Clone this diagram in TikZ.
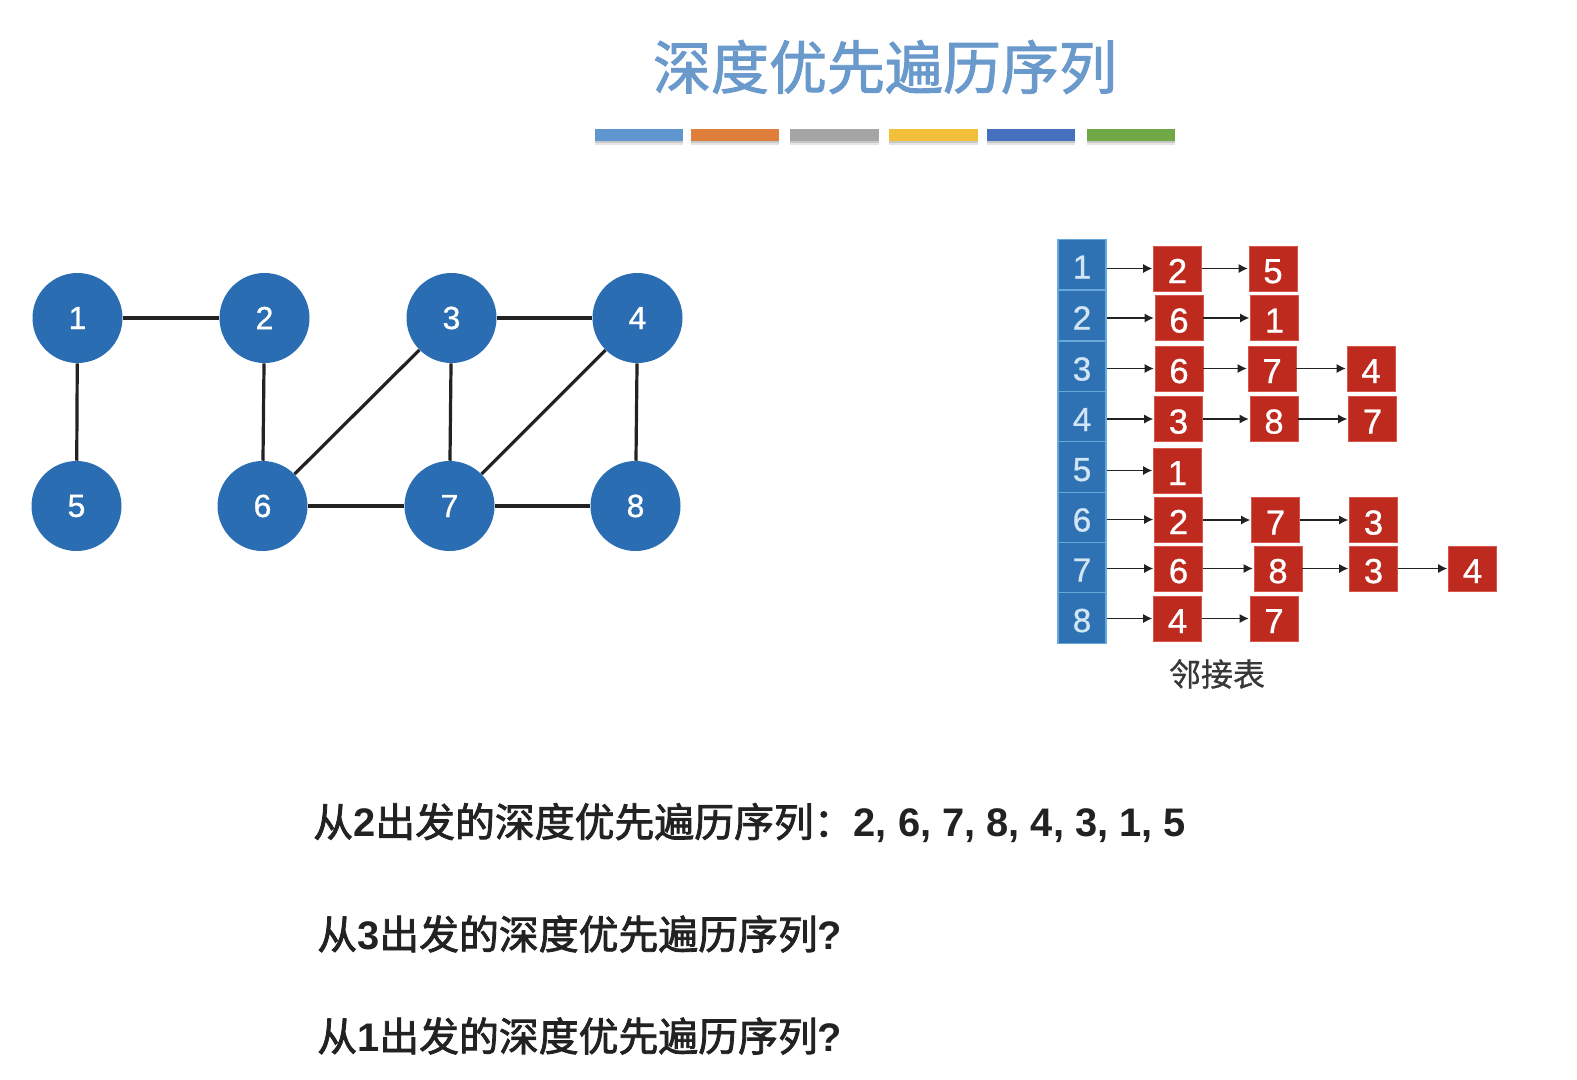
\documentclass[tikz,border=0pt]{standalone}
\usepackage{fontspec}
\setmainfont{Liberation Sans}
\newfontfamily\cjkt[FakeBold=1.6]{Noto Sans CJK SC}
\newfontfamily\cjkm[FakeBold=2.0]{Noto Sans CJK SC}
\newfontfamily\cjks[FakeBold=0.7]{Noto Sans CJK SC}
\newfontfamily\dig[FakeBold=0.8]{Liberation Sans}
\usetikzlibrary{arrows.meta}
\definecolor{circ}{HTML}{2A6DB2}
\definecolor{cellb}{HTML}{2E72B4}
\definecolor{celll}{HTML}{68A8DA}
\definecolor{redb}{HTML}{BE2A1E}
\definecolor{redl}{HTML}{D8574C}
\definecolor{titlec}{HTML}{6A99CC}
\definecolor{ink}{HTML}{222222}
\definecolor{barA}{HTML}{5F96D0}
\definecolor{barB}{HTML}{E07F3C}
\definecolor{barC}{HTML}{A5A5A5}
\definecolor{barD}{HTML}{F2BF3A}
\definecolor{barE}{HTML}{4470BE}
\definecolor{barF}{HTML}{70A845}
\tikzset{
  gnode/.style={circle,fill=circ,text=white,minimum size=67.5pt,inner sep=0pt,font=\fontsize{24}{24}\selectfont\dig},
  gedge/.style={draw=ink,line width=2.4pt},
  cellbox/.style={rectangle,fill=cellb,draw=celll,line width=0.8pt,text=celll!30!white,minimum width=36pt,minimum height=37.8pt,inner sep=0pt,font=\fontsize{25}{25}\selectfont\dig},
  redbox/.style={rectangle,fill=redb,draw=redl,line width=0.7pt,text=white,minimum width=36pt,minimum height=33.75pt,inner sep=0pt,font=\fontsize{26}{26}\selectfont\dig},
  link/.style={draw=ink,line width=1.25pt,-{Latex[length=7pt,width=7pt]},shorten >=0.5pt},
  barshadowa/.style={fill=black!10,draw=none},
  barshadowb/.style={fill=black!22,draw=none},
  txt/.style={inner sep=0pt,anchor=west,text=ink,font=\fontsize{29.9}{36}\selectfont\bfseries},
}
\newcommand{\cc}[1]{{\cjkm\mdseries #1}}
\newcommand{\rbx}[4]{\node[redbox] (#1) at (#2,#3) {\raisebox{-10.9pt}[0pt][0pt]{#4}};}
\newcommand{\cbx}[2]{\node[cellbox] (c#1) at (1082,#2) {\raisebox{-10.5pt}[0pt][0pt]{#1}};}
\newcommand{\colbar}[3]{\fill[barshadowa] (#1,131) rectangle (#2,145); \fill[barshadowb] (#1,131) rectangle (#2,143); \fill[#3] (#1,129) rectangle (#2,140.5);}
\newcommand{\rowlink}[2]{\draw[link] (#2.west -| #1.east) -- (#2.west);}
\begin{document}
\begin{tikzpicture}[x=0.75pt,y=-0.75pt]
\useasboundingbox (0,0) rectangle (1577,1079);
% title
\node[inner sep=0pt,text=titlec,font=\fontsize{43.5}{50}\selectfont\cjkt] (title) at (885,67) {深度优先遍历序列};
\colbar{595}{683}{barA}
\colbar{691}{779}{barB}
\colbar{790}{879}{barC}
\colbar{889}{978}{barD}
\colbar{987}{1075}{barE}
\colbar{1087}{1175}{barF}
% graph
\node[gnode] (n1) at (77.5,318) {1};
\node[gnode] (n2) at (264.5,318) {2};
\node[gnode] (n3) at (451.5,318) {3};
\node[gnode] (n4) at (637.5,318) {4};
\node[gnode] (n5) at (76.5,506) {5};
\node[gnode] (n6) at (262.5,506) {6};
\node[gnode] (n7) at (449.5,506) {7};
\node[gnode] (n8) at (635.5,506) {8};
\draw[gedge] (n1)--(n2);
\draw[gedge] (n3)--(n4);
\draw[gedge] (n6)--(n7);
\draw[gedge] (n7)--(n8);
\draw[gedge] (n1)--(n5);
\draw[gedge] (n2)--(n6);
\draw[gedge] (n3)--(n7);
\draw[gedge] (n4)--(n8);
\draw[gedge] (n3)--(n6);
\draw[gedge] (n4)--(n7);
% adjacency column
\cbx{1}{264.5}
\cbx{2}{315.5}
\cbx{3}{366.5}
\cbx{4}{417}
\cbx{5}{467}
\cbx{6}{517.5}
\cbx{7}{567.5}
\cbx{8}{618}
% lists
\rbx{a1}{1177.5}{268.5}{2}
\rbx{a2}{1273}{268.5}{5}
\rbx{b1}{1179}{318}{6}
\rbx{b2}{1274.5}{318}{1}
\rbx{d1}{1179}{368.5}{6}
\rbx{d2}{1272}{368.5}{7}
\rbx{d3}{1371}{368.5}{4}
\rbx{e1}{1178.5}{419}{3}
\rbx{e2}{1274}{419}{8}
\rbx{e3}{1372.5}{419}{7}
\rbx{f1}{1177.5}{470.5}{1}
\rbx{g1}{1178.5}{519.5}{2}
\rbx{g2}{1275.5}{520}{7}
\rbx{g3}{1373.5}{520}{3}
\rbx{h1}{1178.5}{568.5}{6}
\rbx{h2}{1278}{568.5}{8}
\rbx{h3}{1373.5}{568.5}{3}
\rbx{h4}{1472.5}{568.5}{4}
\rbx{i1}{1177.5}{618.5}{4}
\rbx{i2}{1274}{618.5}{7}
\rowlink{c1}{a1}\rowlink{a1}{a2}
\rowlink{c2}{b1}\rowlink{b1}{b2}
\rowlink{c3}{d1}\rowlink{d1}{d2}\rowlink{d2}{d3}
\rowlink{c4}{e1}\rowlink{e1}{e2}\rowlink{e2}{e3}
\rowlink{c5}{f1}
\rowlink{c6}{g1}\rowlink{g1}{g2}\rowlink{g2}{g3}
\rowlink{c7}{h1}\rowlink{h1}{h2}\rowlink{h2}{h3}\rowlink{h3}{h4}
\rowlink{c8}{i1}\rowlink{i1}{i2}
\node[inner sep=0pt,text=ink!90,font=\fontsize{24}{28}\selectfont\cjks] (cap) at (1217,674) {邻接表};
% text
\node[txt] (l1) at (313,823) {\cc{从}2\cc{出发的深度优先遍历序列：}2, 6, 7, 8, 4, 3, 1, 5};
\node[txt] (l2) at (317,934) {\cc{从}3\cc{出发的深度优先遍历序列}?};
\node[txt] (l3) at (317,1036) {\cc{从}1\cc{出发的深度优先遍历序列}?};
\end{tikzpicture}
\end{document}
